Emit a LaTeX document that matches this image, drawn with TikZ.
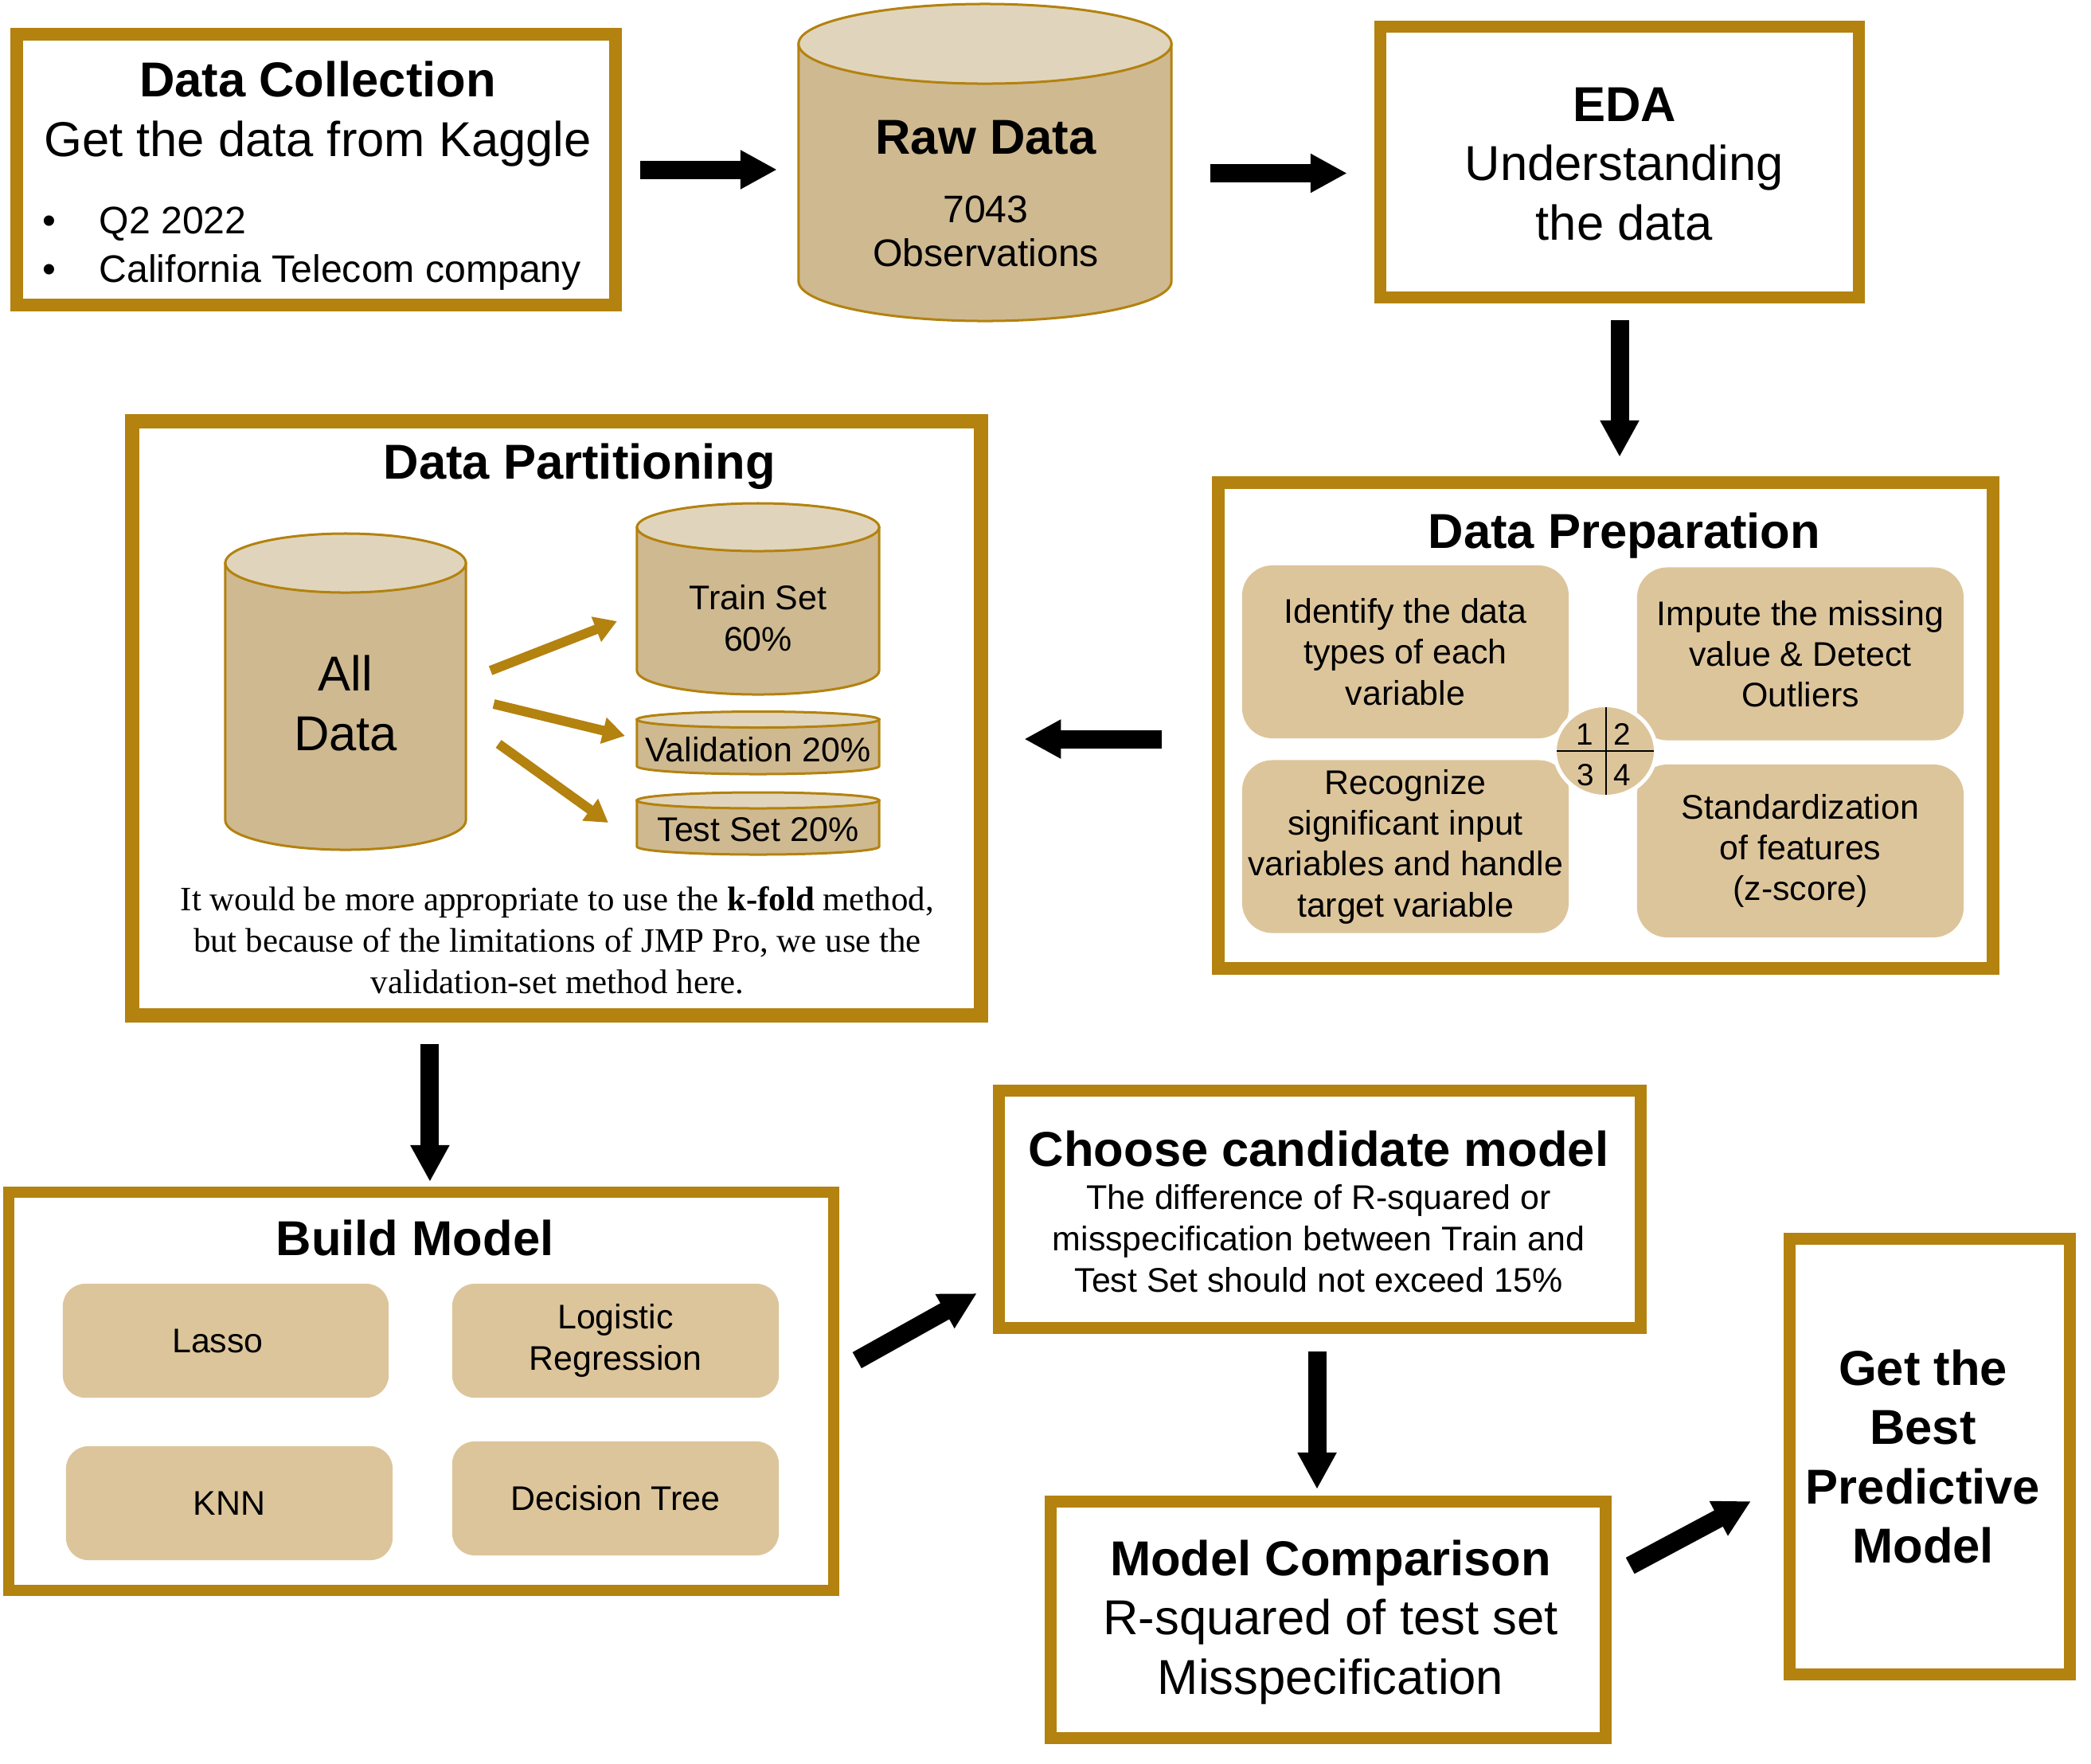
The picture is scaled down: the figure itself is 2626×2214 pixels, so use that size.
\documentclass[tikz,border=0pt]{standalone}
\usepackage{fontspec}
\setmainfont{Liberation Sans}
\newfontfamily\serifx{Liberation Serif}
\usetikzlibrary{arrows.meta}
\definecolor{gold}{RGB}{179,130,15}
\definecolor{cylbody}{RGB}{207,185,145}
\definecolor{cyltop}{RGB}{224,213,188}
\definecolor{tanbox}{RGB}{221,197,155}
\newcommand\ftitle{\fontsize{17.5}{21.2}\selectfont\bfseries}
\newcommand\fbig{\fontsize{17.5}{21.2}\selectfont}
\newcommand\fmed{\fontsize{13.7}{15.6}\selectfont}
\newcommand\fsml{\fontsize{12.2}{14.6}\selectfont}
% cylinder: #1 cx, #2 y of top ellipse, #3 y of bottom ellipse (px), #4 rx (cm), #5 ry (cm)
\newcommand\drawcyl[5]{%
  \filldraw[cylline, fill=cylbody] ([xshift=-#4cm]#1,#2) -- ([xshift=-#4cm]#1,#3)
    arc[start angle=180, end angle=360, x radius=#4cm, y radius=#5cm]
    -- ([xshift=#4cm]#1,#2) -- cycle;
  \filldraw[cylline, fill=cyltop] (#1,#2) ellipse[x radius=#4cm, y radius=#5cm];
}
\tikzset{
  frame/.style={draw=gold, fill=white, line width=0.15cm, inner sep=0},
  ghost/.style={inner sep=0, outer sep=0},
  cylline/.style={draw=gold, line width=0.03cm},
  rbox/.style={fill=tanbox, rounded corners=0.38cm, inner sep=0, align=center, font=\fsml,
               minimum width=4.10cm, minimum height=2.17cm},
  mbox/.style={fill=tanbox, rounded corners=0.28cm, inner sep=0, align=center, font=\fsml,
               minimum width=4.10cm, minimum height=1.43cm},
  blk/.style={draw=black, line width=0.23cm, -{Triangle[length=0.46cm, width=0.46cm]}},
  garrow/.style={draw=gold, line width=0.12cm, -{Triangle[length=0.28cm, width=0.32cm]}},
  lbl/.style={inner sep=0}
}
\begin{document}
\begin{tikzpicture}[x=0.01cm, y=-0.01cm]
\useasboundingbox (0,0) rectangle (2626,2214);
\fill[white] (0,0) rectangle (2626,2214);

% ---------- Data Collection ----------
\node[frame, line width=0.16cm, minimum width=7.52cm, minimum height=3.40cm] (dc) at (397,213) {};
\node[lbl, align=center, font=\fbig] (dct) at (399,143) {\textbf{Data Collection}\\Get the data from Kaggle};
\node[lbl, anchor=west, align=left, font=\fontsize{13.7}{17.3}\selectfont] (dcl) at (53,312)
  {\makebox[0.71cm][l]{\textbullet}Q2 2022\\\makebox[0.71cm][l]{\textbullet}California Telecom company};

% ---------- Raw Data ----------
\node[ghost, minimum width=4.68cm, minimum height=3.98cm] (raw) at (1237,204) {};
\drawcyl{1237}{55}{353}{2.34}{0.50}
\node[lbl, font=\ftitle, anchor=base] (rawt) at (1238,193) {Raw Data};
\node[lbl, font=\fmed, align=center] (rawn) at (1238,290.5) {7043\\Observations};

% ---------- EDA ----------
\node[frame, minimum width=6.01cm, minimum height=3.40cm] (eda) at (2034,203.5) {};
\node[lbl, align=center, font=\fbig] (edat) at (2040,206) {\textbf{EDA}\\Understanding\\the data};

% ---------- Data Preparation ----------
\node[frame, line width=0.16cm, minimum width=9.73cm, minimum height=6.10cm] (prep) at (2016.5,911) {};
\node[lbl, font=\ftitle, anchor=base] (prept) at (2040,688) {Data Preparation};
\node[rbox] (p1) at (1765,818.5) {Identify the data\\types of each\\variable};
\node[rbox] (p2) at (2261,821) {Impute the missing\\value \& Detect\\Outliers};
\node[rbox] (p3) at (1765,1063) {Recognize\\significant input\\variables and handle\\target variable};
\node[rbox] (p4) at (2261,1068.5) {Standardization\\of features\\(z-score)};
\filldraw[fill=tanbox, draw=white, line width=0.05cm] (2016,943) ellipse[x radius=0.635cm, y radius=0.575cm];
\draw[line width=0.02cm] (2017,888) -- (2017,998);
\draw[line width=0.02cm] (1955,943) -- (2077,943);
\node[lbl, font=\fontsize{11}{13}\selectfont] (q1) at (1990,922) {1};
\node[lbl, font=\fontsize{11}{13}\selectfont] (q2) at (2037,922) {2};
\node[lbl, font=\fontsize{11}{13}\selectfont] (q3) at (1991,973) {3};
\node[lbl, font=\fontsize{11}{13}\selectfont] (q4) at (2037,973) {4};

% ---------- Data Partitioning ----------
\node[frame, line width=0.18cm, minimum width=10.66cm, minimum height=7.46cm] (dp) at (699,902) {};
\node[lbl, font=\ftitle, anchor=base] (dpt) at (728,601) {Data Partitioning};
\node[ghost, minimum width=3.02cm, minimum height=3.97cm] (alld) at (434,868.5) {};
\node[ghost, minimum width=3.04cm, minimum height=2.40cm] (train) at (952,752) {};
\node[ghost, minimum width=3.04cm, minimum height=0.785cm] (valid) at (952,933) {};
\node[ghost, minimum width=3.04cm, minimum height=0.78cm] (test) at (952,1034) {};
\drawcyl{434}{707}{1030}{1.51}{0.37}
\drawcyl{952}{662}{842}{1.52}{0.30}
\drawcyl{952}{903.5}{962}{1.52}{0.10}
\drawcyl{952}{1005}{1063}{1.52}{0.10}
\node[lbl, font=\fontsize{17.5}{21.6}\selectfont, align=center] (alldt) at (434,883) {All\\Data};
\node[lbl, font=\fsml, align=center] (traint) at (952,776) {Train Set\\60\%};
\node[lbl, font=\fsml, anchor=base] (validt) at (952,956) {Validation 20\%};
\node[lbl, font=\fsml, anchor=base] (testt) at (952,1056) {Test Set 20\%};
\draw[garrow] ([shift={(31,-26.5)}]alld.east) -- ([shift={(-25,28)}]train.west);
\draw[garrow] ([shift={(35,15.5)}]alld.east) -- ([shift={(-15,-9)}]valid.west);
\draw[garrow] ([shift={(41,65.5)}]alld.east) -- ([shift={(-36,-1)}]test.west);
\node[lbl, font=\serifx\fontsize{12.2}{14.8}\selectfont, align=center] (note) at (700,1181)
  {It would be more appropriate to use the \textbf{k-fold} method,\\
   but because of the limitations of JMP Pro, we use the\\
   validation-set method here.};

% ---------- Build Model ----------
\node[frame, line width=0.14cm, minimum width=10.36cm, minimum height=5.00cm] (bm) at (529,1747) {};
\node[lbl, font=\ftitle, anchor=base] (bmt) at (521,1576) {Build Model};
\node[mbox, minimum width=4.09cm] (lasso) at (283.5,1683.5) {\hspace*{-0.2cm}Lasso};
\node[mbox] (logit) at (773,1683.5) {Logistic\\Regression};
\node[mbox] (knn) at (288,1887.5) {KNN};
\node[mbox] (dtree) at (773,1881.5) {Decision Tree};

% ---------- Choose candidate model ----------
\node[frame, minimum width=8.06cm, minimum height=2.98cm] (choose) at (1657.5,1518.5) {};
\node[lbl, font=\ftitle, anchor=base] (chooset) at (1656,1464) {Choose candidate model};
\node[lbl, font=\fontsize{12.2}{14.8}\selectfont, align=center] (chooseb) at (1656,1555)
  {The difference of R-squared or\\misspecification between Train and\\Test Set should not exceed 15\%};

% ---------- Model Comparison ----------
\node[frame, minimum width=6.97cm, minimum height=2.97cm] (mc) at (1668,2034) {};
\node[lbl, align=center, font=\fbig] (mct) at (1671,2037) {\textbf{Model Comparison}\\R-squared of test set\\Misspecification};

% ---------- Best model ----------
\node[frame, minimum width=3.52cm, minimum height=5.47cm] (best) at (2423.5,1829) {};
\node[lbl, align=center, font=\ftitle] (bestt) at (2415,1829) {Get the\\Best\\Predictive\\Model};

% ---------- black arrows ----------
\draw[blk, shorten <=0.23cm, shorten >=0.27cm] (dc.east) -- (dc.east -| raw.west);
\draw[blk, shorten <=0.49cm, shorten >=0.34cm] ([yshift=-0.135cm]raw.east) -- ([yshift=-0.135cm]raw.east -| eda.west);
\draw[blk, shorten <=0.21cm, shorten >=0.24cm] (eda.south) -- (eda.south |- prep.north);
\draw[blk, shorten <=0.63cm, shorten >=0.45cm] ([yshift=-0.17cm]prep.west) -- ([yshift=-0.17cm]prep.west -| dp.east);
\draw[blk, shorten <=0.27cm, shorten >=0.06cm] ([xshift=-1.59cm]dp.south) -- ([xshift=-1.59cm]dp.south |- bm.north);
\draw[blk] ([shift={(22,-39)}]bm.east) -- ([shift={(-20,105.5)}]choose.west);
\draw[blk, shorten <=0.22cm, shorten >=0.08cm] ([xshift=-0.035cm]choose.south) -- ([xshift=-0.035cm]choose.south |- mc.north);
\draw[blk] ([shift={(23,-68)}]mc.east) -- ([shift={(-41,56)}]best.west);
\end{tikzpicture}
\end{document}
